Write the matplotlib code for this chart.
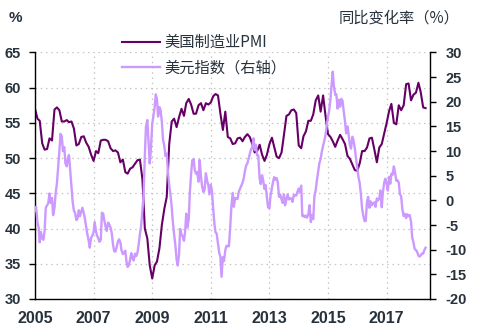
import numpy as np
import pandas as pd
import matplotlib
matplotlib.use('Agg')
import matplotlib.pyplot as plt
import matplotlib.dates as mdates

plt.rcParams['font.family'] = ['Liberation Sans', 'Noto Sans CJK SC']
plt.rcParams['axes.unicode_minus'] = False

# 美国制造业PMI（月度，2005-01 起）
pmi = [
    57.0, 55.6, 55.3, 52.1, 51.2, 51.3, 52.8, 52.5, 56.9, 57.2, 56.8, 55.2,
    55.2, 55.4, 55.1, 55.2, 54.2, 51.8, 52.0, 53.0, 53.1, 52.2, 51.6, 50.5,
    49.6, 51.0, 50.7, 52.5, 52.6, 52.6, 52.4, 51.4, 51.0, 51.1, 50.8, 49.4,
    49.8, 48.0, 47.8, 48.5, 48.7, 49.2, 49.7, 49.8, 47.0, 40.0, 38.6, 34.8,
    32.9, 34.8, 35.3, 37.2, 40.5, 42.8, 44.5, 52.0, 55.2, 55.6, 54.4, 55.8,
    57.0, 56.0, 57.8, 58.4, 57.6, 56.3, 56.3, 57.5, 57.8, 56.8, 57.8, 57.6,
    57.9, 58.8, 59.1, 58.9, 56.3, 54.0, 56.6, 53.0, 52.8, 52.0, 52.1, 52.8,
    52.9, 52.4, 53.0, 53.4, 53.0, 52.0, 50.8, 51.0, 51.9, 50.5, 49.6, 50.5,
    52.0, 52.9, 51.6, 50.2, 50.0, 50.8, 53.3, 56.0, 56.2, 56.8, 56.9, 56.4,
    51.8, 51.4, 53.1, 53.8, 55.3, 55.3, 56.2, 58.2, 58.9, 56.6, 58.9, 56.0,
    53.4, 53.0, 52.4, 51.6, 52.5, 53.3, 52.7, 52.0, 50.3, 49.9, 49.1, 48.3,
    48.2, 49.3, 51.0, 51.0, 51.5, 52.8, 52.9, 51.2, 49.4, 51.5, 52.0, 53.5,
    55.0, 56.7, 57.7, 55.0, 54.8, 57.5, 56.8, 57.5, 60.5, 60.6, 58.2, 59.0,
    59.3, 60.7, 59.4, 57.2, 57.1,
]

# 美元指数同比（半月度，%）
dxy_yoy = [
    -2.0, -1.3, -4.5, -5.5, -8.5, -6.4, -7.7, -8.0, -6.2, -1.5, -1.0, -0.6,
    1.4, -0.5, 0.5, -3.0, -1.5, 1.4, 3.4, 6.4, 10.0, 13.5, 13.0, 10.0,
    10.8, 7.5, 6.9, 8.6, 9.2, 6.2, 2.8, -0.2, -2.1, -2.5, -4.0, -3.7,
    -2.0, -3.2, -2.3, -1.5, -2.6, -3.7, -5.4, -6.8, -8.2, -9.6, -7.6, -7.2,
    -6.5, -4.4, -6.4, -7.2, -7.7, -8.4, -8.0, -2.5, -2.7, -4.1, -5.4, -6.2,
    -4.5, -4.9, -5.5, -6.6, -9.0, -10.3, -10.4, -9.5, -8.3, -7.9, -8.5, -10.1,
    -10.9, -10.6, -10.2, -12.4, -13.5, -13.2, -12.0, -10.7, -11.8, -12.2, -10.8, -11.3,
    -10.6, -9.1, -6.8, -5.3, -2.0, 1.0, 9.0, 14.9, 16.3, 12.0, 7.5, 10.2,
    15.5, 17.0, 19.0, 21.5, 20.5, 17.0, 18.9, 18.3, 16.0, 12.4, 11.0, 9.0,
    9.5, 6.0, 3.0, 1.4, -1.4, -4.3, -6.9, -8.8, -12.0, -13.2, -11.0, -5.8,
    -6.9, -7.3, -8.2, -6.4, -2.7, -5.5, -3.9, 1.6, 5.4, 8.1, 8.4, 6.2,
    5.4, 5.7, 3.8, 8.2, 4.8, 2.8, 1.7, 2.1, 5.5, 4.1, 3.1, 1.2,
    3.2, 2.0, -1.9, -4.7, -6.5, -6.7, -8.7, -10.5, -11.5, -15.5, -11.5, -12.3,
    -10.1, -9.2, -9.3, -9.3, -5.2, -1.2, 1.5, -1.3, 0.5, 0.3, 0.3, 1.7,
    2.4, 2.9, 3.6, 4.4, 5.9, 7.0, 7.5, 8.4, 9.4, 10.3, 10.8, 12.6,
    10.2, 11.3, 9.1, 9.1, 4.4, 3.3, 5.1, 4.1, 2.3, 3.1, 0.5, -1.4,
    -1.6, 1.0, 2.5, 3.8, 4.7, 4.2, 4.5, 3.6, 0.7, 1.2, 0.2, -0.5,
    1.2, -1.0, 0.2, 1.2, 0.2, 0.4, 0.4, -0.3, 1.1, 1.0, 1.0, 1.7,
    2.4, 1.7, 3.0, -3.2, -3.0, -3.4, -3.1, -3.5, -2.8, -1.0, -4.4, -3.0,
    -3.8, 0.7, 2.1, 4.0, 6.0, 7.5, 8.4, 9.8, 11.1, 12.0, 13.3, 15.0,
    17.0, 18.1, 20.6, 23.5, 26.1, 23.2, 21.4, 21.5, 18.6, 20.4, 19.0, 20.6,
    20.2, 18.2, 16.0, 13.6, 15.0, 13.4, 11.2, 10.5, 12.9, 12.2, 10.6, 8.7,
    6.6, 4.8, 3.4, 1.2, -1.7, -3.0, -4.2, -4.2, -0.3, 0.7, -1.5, -0.2,
    -1.0, -0.6, -0.4, -1.3, 0.4, 0.0, 0.3, 2.0, -1.4, 1.6, 3.6, 4.4,
    3.4, 2.0, 4.8, 3.4, 5.4, 5.2, 6.9, 5.7, 4.0, 4.1, 3.6, 1.3,
    0.8, -1.7, -3.2, -2.7, -3.6, -2.8, -3.2, -3.0, -4.3, -7.5, -8.5, -9.8,
    -10.1, -10.4, -11.2, -11.4, -11.2, -10.8, -10.8, -10.1, -9.6,
]

pmi_dates = pd.date_range('2005-01-01', periods=len(pmi), freq='MS')
dxy_dates = pd.date_range('2005-01-01', periods=len(dxy_yoy), freq='SMS')

year_ticks = [2005, 2007, 2009, 2011, 2013, 2015, 2017]
left_ticks = [30, 35, 40, 45, 50, 55, 60, 65]
right_ticks = [-20, -15, -10, -5, 0, 5, 10, 15, 20, 25, 30]

c_pmi = '#660066'
c_dxy = '#cc99ff'
c_text = '#27323d'
c_grid = '#c4c4c4'
cjk = ['Noto Sans CJK SC', 'Liberation Sans']

fig = plt.figure(figsize=(4.8, 3.3), dpi=100)
ax = fig.add_axes([0.0729, 0.094, 0.8229, 0.747])
ax2 = ax.twinx()

ax.plot(pmi_dates, pmi, color=c_pmi, lw=1.5, label='美国制造业PMI')
ax2.plot(dxy_dates, dxy_yoy, color=c_dxy, lw=1.7, label='美元指数（右轴）')

ax.set_xlim(pd.Timestamp('2005-01-01'), pd.Timestamp('2018-06-25'))
ax.set_ylim(30, 65)
ax2.set_ylim(-20, 30)
ax.set_yticks(left_ticks)
ax2.set_yticks(right_ticks)
ax.set_xticks([pd.Timestamp(f'{y}-01-01') for y in year_ticks])
ax.xaxis.set_major_formatter(mdates.DateFormatter('%Y'))

# 点状网格
ax.grid(True, color=c_grid, linestyle=(0, (1.2, 3)), lw=0.9)
ax.set_axisbelow(True)

for a in (ax, ax2):
    a.spines['top'].set_visible(False)
    for s in ('left', 'right', 'bottom'):
        a.spines[s].set_color('black')
        a.spines[s].set_linewidth(1.0)
ax.spines['right'].set_visible(False)
ax2.spines['left'].set_visible(False)
ax2.spines['bottom'].set_visible(False)

ax.tick_params(axis='x', length=0, pad=9, labelcolor=c_text)
ax.tick_params(axis='y', length=4, width=1, direction='out', pad=6, labelcolor=c_text)
ax2.tick_params(axis='y', length=4, width=1, direction='out', pad=7, labelcolor=c_text)
for lab in ax.get_xticklabels():
    lab.set_fontsize(11.5)
    lab.set_fontweight('bold')
for lab in ax.get_yticklabels() + ax2.get_yticklabels():
    lab.set_fontsize(10.5)
    lab.set_fontweight('bold')

fig.text(0.017, 0.945, '%', fontsize=11, fontweight='bold', color=c_text,
         ha='left', va='center')
fig.text(0.705, 0.945, '同比变化率（%）', fontsize=11, color=c_text,
         ha='left', va='center', family=cjk)

h1, l1 = ax.get_legend_handles_labels()
h2, l2 = ax2.get_legend_handles_labels()
fig.legend(h1 + h2, l1 + l2, loc='center left', bbox_to_anchor=(0.254, 0.832),
           frameon=False, handlelength=2.5, handletextpad=0.25, labelspacing=0.55,
           borderpad=0, borderaxespad=0, prop={'family': cjk, 'size': 11},
           labelcolor=c_text)

fig.savefig('out.png', dpi=100)
